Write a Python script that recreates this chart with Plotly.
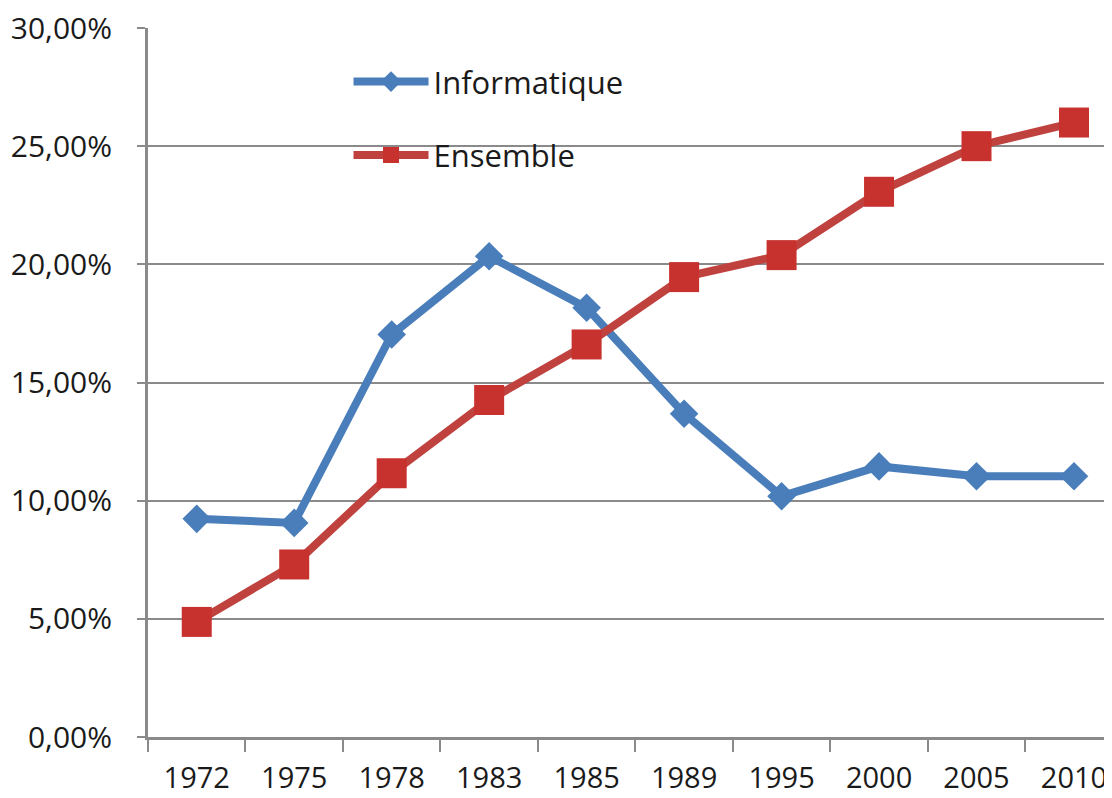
import plotly.graph_objects as go

years = ["1972", "1975", "1978", "1983", "1985", "1989", "1995", "2000", "2005", "2010"]
informatique = [0.0923, 0.0906, 0.1703, 0.2034, 0.1816, 0.1368, 0.1019, 0.1145, 0.1103, 0.1103]
ensemble = [0.0487, 0.0730, 0.1116, 0.1426, 0.1661, 0.1946, 0.2039, 0.2307, 0.2500, 0.2600]

FONT = "Open Sans"
grey = "#8a8a8a"
FS = 31

fig = go.Figure()
fig.add_trace(go.Scatter(
    x=years, y=informatique, name="Informatique", mode="lines+markers",
    line=dict(color="#4a7ebb", width=8),
    marker=dict(symbol="diamond", size=22, color="#4a7ebb"),
    legendgroup="a",
))
fig.add_trace(go.Scatter(
    x=years, y=ensemble, name="Ensemble", mode="lines+markers",
    line=dict(color="#c0423e", width=8),
    marker=dict(symbol="square", size=30, color="#c8322e"),
    legendgroup="b",
))

fig.update_layout(
    width=1104, height=790,
    margin=dict(l=140, r=0, t=20, b=61),
    paper_bgcolor="white", plot_bgcolor="white",
    separators=",.",
    font=dict(family=FONT, size=FS, color="#1a1a1a"),
    showlegend=True,
    legend=dict(
        x=0.208, y=0.962, xanchor="left", yanchor="top",
        bgcolor="rgba(0,0,0,0)", tracegroupgap=30,
        itemwidth=75, font=dict(size=FS, family=FONT),
    ),
    xaxis=dict(
        type="category", range=[-0.5, 9.39], automargin=False,
        tickson="boundaries", ticks="outside", ticklen=12, tickwidth=2, tickcolor=grey,
        showline=True, linecolor=grey, linewidth=3,
        showgrid=False, zeroline=False,
        ticklabelstandoff=13, ticklabeloverflow="allow",
        tickfont=dict(size=29, family=FONT),
    ),
    yaxis=dict(
        range=[0, 0.30], dtick=0.05, tickformat=".2%", automargin=False,
        ticks="outside", ticklen=8, tickwidth=2, tickcolor=grey,
        showline=True, linecolor=grey, linewidth=3,
        showgrid=True, gridcolor=grey, gridwidth=2,
        zeroline=False,
        ticklabelstandoff=19, ticklabeloverflow="allow",
        tickfont=dict(size=30, family=FONT),
    ),
)

fig.write_html("out.html")
